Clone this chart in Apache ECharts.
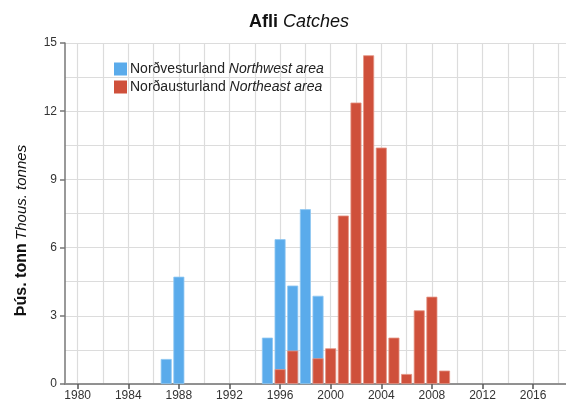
<!DOCTYPE html>
<html>
<head>
<meta charset="utf-8">
<script src="https://cdn.jsdelivr.net/npm/echarts@6/dist/echarts.min.js"></script>
<style>
  html, body { margin: 0; padding: 0; background: #fff; }
  #chart { width: 566px; height: 407px; }
</style>
</head>
<body>
<div id="chart"></div>
<script>
// catches in thousand tonnes, by year
const nwYears = [1987, 1988, 1995, 1996, 1997, 1998, 1999]
const nwValues = [1.1, 4.72, 2.04, 6.37, 4.33, 7.69, 3.88]
const neYears = [1996, 1997, 1999, 2000, 2001, 2002, 2003, 2004, 2005, 2006, 2007, 2008, 2009]
const neValues = [0.65, 1.47, 1.13, 1.57, 7.41, 12.38, 14.46, 10.4, 2.04, 0.44, 3.24, 3.84, 0.59]
const xTickYears = [1980, 1984, 1988, 1992, 1996, 2000, 2004, 2008, 2012, 2016]

const font = '"Liberation Sans", Arial, sans-serif'
const chart = echarts.init(document.getElementById('chart'))

const xMin = 1979, xMax = 2018.6

chart.setOption({
  animation: false,
  textStyle: { fontFamily: font },
  title: {
    text: '{b|Afli} {i|Catches}',
    left: 294, top: 8, textAlign: 'center',
    textStyle: {
      fontWeight: 'normal',
      rich: {
        b: { fontFamily: font, fontWeight: 'bold', fontSize: 18, color: '#111' },
        i: { fontFamily: font, fontStyle: 'italic', fontWeight: 'normal', fontSize: 18, color: '#111' },
      },
    },
  },
  legend: {
    orient: 'vertical', left: 109, top: 57,
    itemWidth: 13, itemHeight: 13, itemGap: 4,
    icon: 'rect',
    itemStyle: { borderWidth: 0 },
    data: ['nw', 'ne'],
    formatter: (n) => n === 'nw' ? 'Norðvesturland {i|Northwest area}' : 'Norðausturland {i|Northeast area}',
    textStyle: {
      fontFamily: font, fontSize: 14, color: '#222', padding: [0, 0, 0, -2],
      rich: { i: { fontFamily: font, fontStyle: 'italic', fontSize: 14, color: '#222' } },
    },
  },
  grid: { left: 65, right: 0, top: 43, bottom: 23 },
  xAxis: [
    {
      type: 'value', min: xMin, max: xMax, position: 'bottom',
      axisLine: { show: true, lineStyle: { color: '#555', width: 1.5 } },
      axisTick: { show: true, length: 5, customValues: xTickYears, lineStyle: { color: '#555', width: 1.5 } },
      axisLabel: {
        customValues: xTickYears, color: '#333', fontSize: 12, margin: 6, fontFamily: font,
        formatter: (v) => String(v),
      },
      splitLine: { show: false },
    },
    {
      type: 'value', min: xMin, max: xMax, interval: 1, position: 'top',
      axisLine: { show: true, lineStyle: { color: '#999', width: 1.5 } },
      axisTick: { show: false },
      axisLabel: { show: false },
      splitLine: { show: true, lineStyle: { color: ['rgba(0,0,0,0)', '#dcdcdc'], width: 1.2 } },
    },
  ],
  yAxis: [
    {
      type: 'value', min: 0, max: 15, interval: 3,
      name: '{b|Þús. tonn} {i|Thous. tonnes}',
      nameLocation: 'middle', nameGap: 35, nameRotate: 90,
      nameTextStyle: {
        padding: [0, 0, 0, -34],
        rich: {
          b: { fontFamily: font, fontWeight: 'bold', fontSize: 16, color: '#111' },
          i: { fontFamily: font, fontStyle: 'italic', fontSize: 15, color: '#111' },
        },
      },
      axisLine: { show: true, lineStyle: { color: '#777', width: 1.5 } },
      axisTick: { show: true, length: 5, lineStyle: { color: '#777', width: 1.5 } },
      axisLabel: { color: '#333', fontSize: 12, margin: 8, fontFamily: font },
      splitLine: { show: false },
    },
    {
      type: 'value', min: 0, max: 15, interval: 1.5, position: 'left',
      axisLine: { show: false }, axisTick: { show: false }, axisLabel: { show: false },
      splitLine: { show: true, lineStyle: { color: '#dcdcdc', width: 1.2 } },
    },
  ],
  series: [
    {
      name: 'nw', type: 'bar', xAxisIndex: 0, yAxisIndex: 0,
      data: nwYears.map((y, i) => [y, nwValues[i]]),
      barWidth: 11, barGap: '-100%',
      itemStyle: { color: '#5aabeb', borderColor: '#8fc8f3', borderWidth: 0.8 },
    },
    {
      name: 'ne', type: 'bar', xAxisIndex: 0, yAxisIndex: 0,
      data: neYears.map((y, i) => [y, neValues[i]]),
      barWidth: 11, barGap: '-100%',
      itemStyle: { color: '#cf503b', borderColor: '#e59484', borderWidth: 0.8 },
    },
  ],
})
</script>
</body>
</html>
